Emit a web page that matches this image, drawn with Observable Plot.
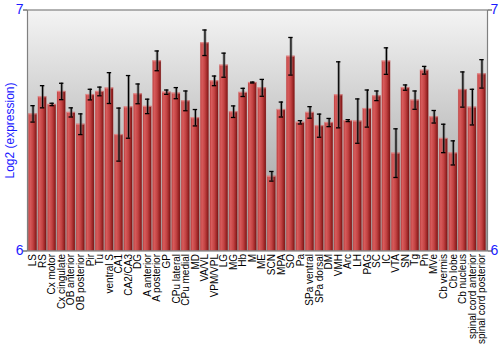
<!DOCTYPE html>
<html>
<head>
<meta charset="utf-8">
<script src="https://cdn.jsdelivr.net/npm/d3@7"></script>
<script src="https://cdn.jsdelivr.net/npm/@observablehq/plot@0.6"></script>
<style>
  html, body { margin: 0; padding: 0; background: #fff; }
  #chart svg { display: block; }
</style>
</head>
<body>
<div id="chart"></div>
<script>
const names = ["LS", "RS", "Cx motor", "Cx cingulate", "OB anterior", "OB posterior", "Pir", "Tu", "ventral S", "CA1", "CA2/CA3", "DG", "A anterior", "A posterior", "GP", "CPu lateral", "CPu medial", "MD", "VA/VL", "VPM/VPL", "LG", "MG", "Hb", "M", "ME", "SCN", "MPA", "SO", "Pa", "SPa ventral", "SPa dorsal", "DM", "VMH", "Arc", "LH", "PAG", "SC", "IC", "VTA", "SN", "Tg", "Pn", "MVe", "Cb vermis", "Cb lobe", "Cb nucleus", "spinal cord anterior", "spinal cord posterior"];
const values = [6.569, 6.640, 6.608, 6.662, 6.575, 6.526, 6.649, 6.662, 6.676, 6.483, 6.598, 6.652, 6.600, 6.789, 6.659, 6.655, 6.623, 6.553, 6.864, 6.706, 6.771, 6.578, 6.658, 6.699, 6.677, 6.310, 6.587, 6.808, 6.534, 6.575, 6.520, 6.533, 6.648, 6.541, 6.539, 6.591, 6.644, 6.788, 6.406, 6.678, 6.626, 6.750, 6.557, 6.467, 6.407, 6.670, 6.597, 6.735];
const errors = [0.034, 0.046, 0.005, 0.034, 0.019, 0.043, 0.022, 0.018, 0.064, 0.110, 0.130, 0.041, 0.030, 0.041, 0.009, 0.023, 0.041, 0.034, 0.053, 0.020, 0.050, 0.024, 0.017, 0.002, 0.035, 0.020, 0.031, 0.078, 0.007, 0.024, 0.048, 0.017, 0.137, 0.004, 0.092, 0.077, 0.020, 0.055, 0.101, 0.011, 0.038, 0.016, 0.026, 0.059, 0.050, 0.073, 0.074, 0.059];
const yTicks = [6, 7];
const yLabel = "Log2 (expression)";

const data = names.map((name, i) => ({name, value: values[i], err: errors[i]}));

function defs() {
  const d = d3.create("svg:defs");
  const bg = d.append("linearGradient").attr("id", "bgGrad")
    .attr("x1", 0).attr("y1", 0).attr("x2", 0).attr("y2", 1);
  bg.append("stop").attr("offset", "0%").attr("stop-color", "#f4f4f4");
  bg.append("stop").attr("offset", "100%").attr("stop-color", "#959595");
  const bar = d.append("linearGradient").attr("id", "barGrad")
    .attr("x1", 0).attr("y1", 0).attr("x2", 1).attr("y2", 0);
  bar.append("stop").attr("offset", "0%").attr("stop-color", "#b83a3a");
  bar.append("stop").attr("offset", "20%").attr("stop-color", "#d85c5c");
  bar.append("stop").attr("offset", "55%").attr("stop-color", "#c24242");
  bar.append("stop").attr("offset", "85%").attr("stop-color", "#962222");
  bar.append("stop").attr("offset", "100%").attr("stop-color", "#6a1010");
  return d.node();
}

const font = "'Liberation Sans', Arial, sans-serif";

const chart = Plot.plot({
  width: 500,
  height: 350,
  marginTop: 9.5,
  marginBottom: 99.5,
  marginLeft: 27,
  marginRight: 13,
  style: {fontFamily: font, background: "#fff"},
  x: {domain: names, paddingInner: 0.12, paddingOuter: 0.14, round: false, label: null},
  y: {domain: [6, 7], label: null},
  marks: [
    defs,
    Plot.frame({fill: "url(#bgGrad)", stroke: "none"}),
    Plot.barY(data, {x: "name", y1: 6, y2: "value", fill: "url(#barGrad)", stroke: "#e07878", strokeOpacity: 0.35, strokeWidth: 0.6}),
    Plot.tickY(data, {x: "name", y: "value", stroke: "#f0a0a0", strokeOpacity: 0.6, strokeWidth: 1.2}),
    Plot.ruleX(data, {x: "name", y1: d => d.value - d.err, y2: d => d.value + d.err, stroke: "#777", strokeOpacity: 0.6, strokeWidth: 3}),
    Plot.ruleX(data, {x: "name", y1: d => d.value - d.err, y2: d => d.value + d.err, stroke: "#000", strokeWidth: 1.2}),
    Plot.tickY(data, {x: "name", y: d => d.value + d.err, stroke: "#000", strokeWidth: 1.3, insetLeft: 2, insetRight: 2}),
    Plot.tickY(data, {x: "name", y: d => d.value - d.err, stroke: "#000", strokeWidth: 1.3, insetLeft: 2, insetRight: 2}),
    Plot.frame({stroke: "#808080", strokeWidth: 1.2, fill: "none"}),
    Plot.axisY({anchor: "left", ticks: yTicks, tickSize: 0, tickPadding: 4, fontSize: 14, tickFormat: d => String(d), color: "#1a1aff", label: yLabel, labelAnchor: "center", labelArrow: "none", labelOffset: 22}),
    Plot.axisY({anchor: "right", ticks: yTicks, tickSize: 0, tickPadding: 3, fontSize: 14, tickFormat: d => String(d), color: "#1a1aff", label: null}),
    Plot.axisY({anchor: "left", ticks: yTicks, tickSize: 4, tickFormat: () => "", label: null, color: "#333"}),
    Plot.axisY({anchor: "right", ticks: yTicks, tickSize: 4, tickFormat: () => "", label: null, color: "#333"}),
    Plot.axisX({tickSize: 0, tickPadding: 3, tickRotate: -90, fontSize: 10, color: "#000", label: null})
  ]
});

chart.querySelectorAll('[aria-label="y-axis label"] text, [aria-label="y-axis label"]').forEach(el => {
  el.setAttribute("font-size", 12);
});
document.getElementById("chart").appendChild(chart);
</script>
</body>
</html>
